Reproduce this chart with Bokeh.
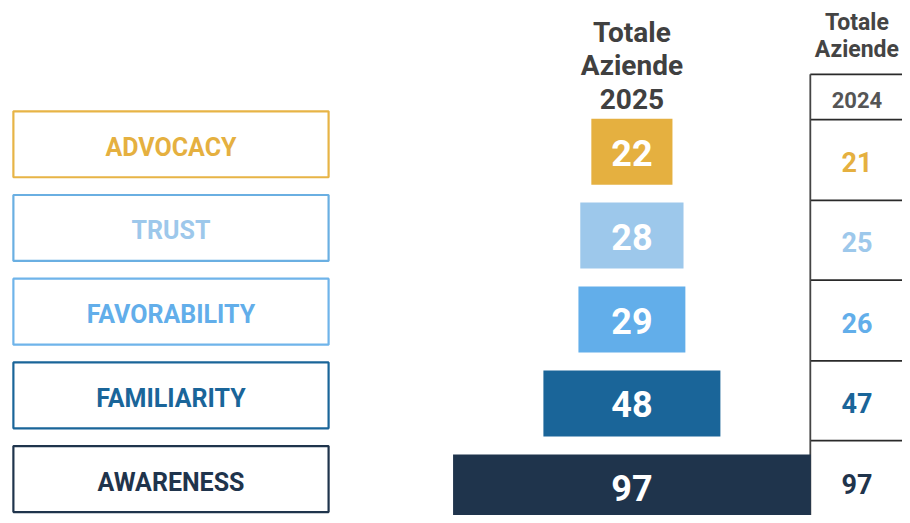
from bokeh.plotting import figure
from bokeh.models import Range1d, ColumnDataSource
from bokeh.core.properties import value
from bokeh.embed import file_html
from bokeh.resources import INLINE

# ---- data ----
stages = ["ADVOCACY", "TRUST", "FAVORABILITY", "FAMILIARITY", "AWARENESS"]
values_2025 = [22, 28, 29, 48, 97]
values_2024 = [21, 25, 26, 47, 97]
colors = ["#E5B040", "#9DC8EB", "#62AEEA", "#1A6599", "#1F344C"]
border_colors = ["#E7B446", "#6AAFE2", "#6FB4EA", "#1A6599", "#1F344C"]
header_2025 = ["Totale", "Aziende", "2025"]
header_2024 = ["Totale", "Aziende"]
year_2024 = "2024"

# ---- layout helpers (reference px -> data units) ----
W, H = 902, 515
REF_W, REF_H = 910, 523
K = 3.72          # px per unit of value
CX = 637          # x of funnel centre
def dx(px):
    return (px - CX) / K

p = figure(width=W, height=H, output_backend="svg", toolbar_location=None,
           x_range=Range1d(dx(0), dx(REF_W)), y_range=Range1d(REF_H, 0),
           min_border=0, outline_line_color=None)
p.axis.visible = False
p.xgrid.visible = False
p.ygrid.visible = False
p.background_fill_color = "white"

n = len(stages)
bar_y = [153.5 + 85.25 * i for i in range(n)]
box_y = [146 + 85 * i for i in range(n)]
cell_y = [164 + 81.75 * i for i in range(n)]

FONT = "Roboto"

src = ColumnDataSource(dict(
    stage=stages, v24=[str(v) for v in values_2024],
    v25s=[str(v) for v in values_2025],
    left=[-v / 2 for v in values_2025], right=[v / 2 for v in values_2025],
    bar_y=bar_y, box_y=box_y, text_y=[b + 3 for b in box_y],
    cell_y=cell_y, color=colors, border=border_colors,
    box_x=[dx(172)] * n, tab_x=[dx(864)] * n, zero=[0] * n,
    num_y=[b + 1 for b in bar_y],
))

# label boxes
p.rect(x="box_x", y="box_y", width=318 / K, height=67, source=src,
       fill_color="white", line_color="border", line_width=2.2)
p.text(x="box_x", y="text_y", text="stage", source=src, text_color="color",
       text_font=value(FONT), text_font_style="bold", text_font_size="25px",
       text_align="center", text_baseline="middle")

# table lines
tx0, tx1 = dx(817), dx(915)
hl = [75, 121, 203, 284, 366, 447]
p.segment(x0=[tx0] * len(hl), x1=[tx1] * len(hl), y0=hl, y1=hl,
          line_color="#2a2a2a", line_width=1.6)
p.segment(x0=[tx0], x1=[tx0], y0=[75], y1=[530], line_color="#444444", line_width=1.8)

# funnel bars
p.hbar(y="bar_y", left="left", right="right", height=67, source=src,
       fill_color="color", line_color=None)
p.text(x="zero", y="num_y", text="v25s", source=src, text_color="white",
       text_font=value(FONT), text_font_style="bold", text_font_size="36px",
       text_align="center", text_baseline="middle")

# 2024 numbers
p.text(x="tab_x", y="cell_y", text="v24", source=src, text_color="color",
       text_font=value(FONT), text_font_style="bold", text_font_size="27px",
       text_align="center", text_baseline="middle")

# headers
p.text(x=[0] * 3, y=[32, 66, 100], text=header_2025, text_color="#404040",
       text_font=value(FONT), text_font_style="bold", text_font_size="28px",
       text_align="center", text_baseline="middle")
p.text(x=[dx(864)] * 2, y=[22, 50], text=header_2024, text_color="#444444",
       text_font=value(FONT), text_font_style="bold", text_font_size="23px",
       text_align="center", text_baseline="middle")
p.text(x=[dx(864)], y=[101], text=[year_2024], text_color="#555555",
       text_font=value(FONT), text_font_style="bold", text_font_size="22px",
       text_align="center", text_baseline="middle")

open("out.html", "w").write(file_html(p, INLINE))
